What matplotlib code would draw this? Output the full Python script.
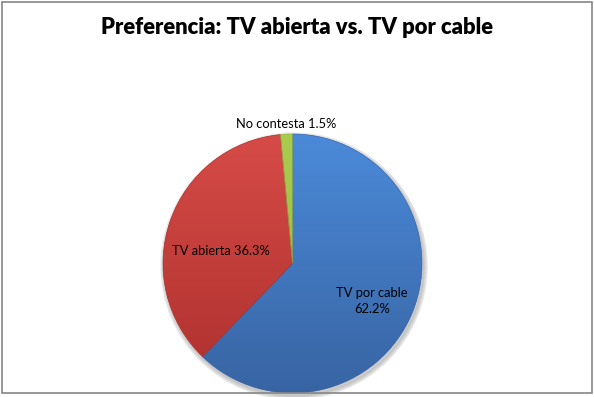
import numpy as np
import matplotlib
matplotlib.use("Agg")
import matplotlib.pyplot as plt
from matplotlib.colors import LinearSegmentedColormap
from matplotlib.patches import Rectangle, Wedge

# data
categories = ["TV por cable", "TV abierta", "No contesta"]
values = [62.2, 36.3, 1.5]
label_text = ["TV por cable\n62.2%", "TV abierta 36.3%", "No contesta 1.5%"]

# slice colours (top, bottom) for the Excel-like gradient
top_colors = ["#4b8ad9", "#d64b47", "#a9cc4f"]
bottom_colors = ["#3864a3", "#ad302d", "#93b341"]

plt.rcParams['font.family'] = ['Lato', 'DejaVu Sans']

W, H = 594, 397
fig = plt.figure(figsize=(W / 100, H / 100), dpi=100)
fig.patch.set_facecolor("white")

# pie centre / radius in pixels
cx, cy, r = 292.5, 263.5, 129.5
ax = fig.add_axes([(cx - r) / W, (H - cy - r) / H, 2 * r / W, 2 * r / H])

wedges, _ = ax.pie(values, startangle=90, counterclock=False,
                   colors=top_colors, radius=1.0,
                   wedgeprops=dict(linewidth=0))
ax.set_xlim(-1, 1)
ax.set_ylim(-1, 1)
ax.set_aspect("equal")
ax.axis("off")

# soft shadow under pie
for k in range(6):
    sh = plt.Circle((0.012, -0.02), 1.0 + k * 0.006, color="black",
                    alpha=0.035, zorder=0, clip_on=False)
    ax.add_patch(sh)

# gradient fill clipped to each wedge
grad = np.linspace(0, 1, 256).reshape(-1, 1)
for w, c1, c2 in zip(wedges, top_colors, bottom_colors):
    cmap = LinearSegmentedColormap.from_list("g", [c1, c2])
    im = ax.imshow(grad, cmap=cmap, extent=(-1, 1, -1, 1), origin="upper",
                   aspect="auto", zorder=2, interpolation="bilinear")
    im.set_clip_path(w)
    w.set_zorder(1)

# thin rim to imitate the bevel
for w, c2 in zip(wedges, bottom_colors):
    ec = Wedge(w.center, w.r, w.theta1, w.theta2, fill=False, edgecolor=c2,
               linewidth=0.5, alpha=0.8, zorder=3, clip_on=False)
    ax.add_patch(ec)

# data labels
label_pos = [(0.614, -0.29), (-0.552, 0.093), (-0.05, 1.075)]
for txt, (lx, ly) in zip(label_text, label_pos):
    ax.text(lx, ly, txt, ha="center", va="center", fontsize=9.3,
            color="black", zorder=5, linespacing=1.35)

fig.text(297 / W, 1 - 28 / H, "Preferencia: TV abierta vs. TV por cable",
         ha="center", va="center", fontsize=15.8, fontweight="heavy")

# chart frame
fig.patches.append(Rectangle((2 / W, 4 / H), 590 / W, 391 / H,
                             transform=fig.transFigure, fill=False,
                             edgecolor="#868686", linewidth=1.2))

fig.savefig("out.png", dpi=100)
